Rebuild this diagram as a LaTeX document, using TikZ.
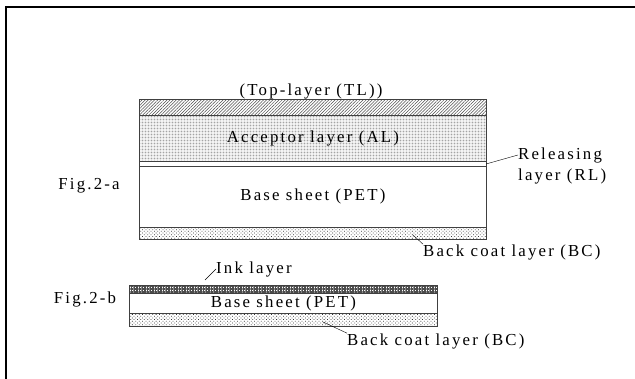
\documentclass[tikz,border=0pt]{standalone}
\usepackage{fontspec}
\setmainfont{Liberation Serif}[LetterSpace=13]
\usetikzlibrary{positioning,patterns,patterns.meta}

\begin{document}
\begin{tikzpicture}[x=1pt,y=-1pt]
		\tikzset{Layer/.style = {draw=black!75, line width=0.8pt, anchor=north west, inner sep=0pt, font=\fontsize{16.8}{18}\selectfont},
		         Label/.style = {inner sep=0pt, font=\fontsize{16.8}{21}\selectfont, align=left},
		         Coat/.style = {pattern={Dots[distance=2.4pt,radius=0.55pt,angle=45]}, pattern color=black!80}}
		\useasboundingbox (0,0) rectangle (635,379);
		\draw[line width=1.6pt] (6,379) -- (6,7) -- (635,7);
		% Fig.2-a
		\node[Layer, minimum width=347pt, minimum height=16pt, pattern={Lines[angle=45,distance=2.2pt,line width=0.5pt]}, pattern color=black!70] (TL) at (139,99) {};
		\node[Layer, minimum width=347pt, minimum height=46pt, pattern={Dots[distance=1.5pt,radius=0.35pt]}, pattern color=black!55] (AL) at (139,115) {Acceptor layer (AL)};
		\node[Layer, minimum width=347pt, minimum height=5pt] (RL) at (139,161) {};
		\node[Layer, minimum width=347pt, minimum height=61pt] (PET) at (139,166) {Base sheet (PET)};
		\node[Layer, Coat, minimum width=347pt, minimum height=12pt] (BC) at (139,227) {};
		\node[Label] (TLtext) at (311,91) {(Top-layer (TL))};
		\node[Label] (figa) at (89,186) {Fig.2-a};
		\node[Label, anchor=north west] (RLtext) at (518,148) {Releasing\\layer (RL)};
		\node[Label, anchor=west] (BCtext) at (423,252) {Back coat layer (BC)};
		\coordinate (RLpt) at (486,164);
		\coordinate (BCpt) at (413,235);
		\draw (RLpt) -- ([yshift=-7pt]RLtext.north west);
		\draw (BCpt) -- (BCtext.north west);
		% Fig.2-b
		\node[Layer, minimum width=308pt, minimum height=8pt, pattern={Hatch[distance=1.6pt,line width=0.45pt]}, pattern color=black!70] (INK) at (129,285) {};
		\node[Layer, minimum width=308pt, minimum height=20pt] (PETb) at (129,293) {Base sheet (PET)};
		\node[Layer, Coat, minimum width=308pt, minimum height=13pt] (BCb) at (129,313) {};
		\node[Label] (figb) at (85,299) {Fig.2-b};
		\node[Label, anchor=west] (INKtext) at (216,269) {Ink layer};
		\node[Label, anchor=west] (BCbtext) at (347,341) {Back coat layer (BC)};
		\coordinate (INKpt) at (205,280);
		\coordinate (BCbpt) at (323,322);
		\draw (INKpt) -- (INKtext.west);
		\draw (BCbpt) -- (BCbtext.north west);
	\end{tikzpicture}
\end{document}
